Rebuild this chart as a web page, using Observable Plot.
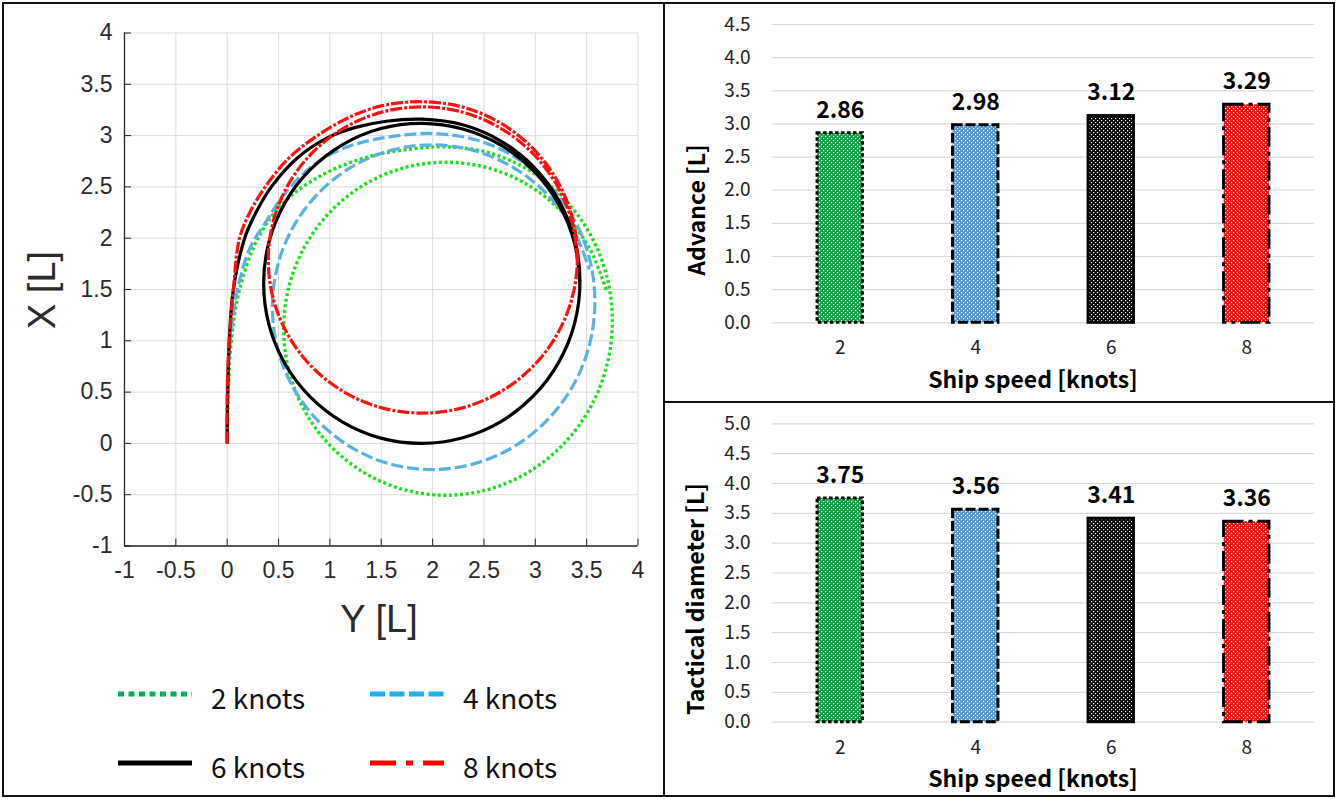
<!DOCTYPE html>
<html><head><meta charset="utf-8">
<script src="https://cdn.jsdelivr.net/npm/d3@7"></script>
<script src="https://cdn.jsdelivr.net/npm/@observablehq/plot@0.6"></script>
<style>
html,body{margin:0;padding:0;background:#fff;}
#root{position:relative;width:1337px;height:799px;overflow:hidden;background:#fff;}
.abs{position:absolute;}
.title{position:absolute;white-space:nowrap;transform:translate(-50%,-50%);}
.rot{transform:translate(-50%,-50%) rotate(-90deg);}
.bt{font-family:"Noto Sans CJK KR","Noto Sans",sans-serif;font-weight:bold;font-size:23px;color:#000;}
.lt{font-family:"Liberation Sans",Arial,sans-serif;font-size:38px;color:#2b2b2b;}
</style></head><body>
<div id="root">
  <svg width="0" height="0" style="position:absolute">
    <defs>
      <pattern id="pat2" width="4" height="4" patternUnits="userSpaceOnUse"><rect width="4" height="4" fill="#12a548"/><rect x="0" y="0" width="1.2" height="1.2" fill="#fff"/><rect x="2" y="2" width="1.2" height="1.2" fill="#fff"/></pattern>
      <pattern id="pat4" width="4" height="4" patternUnits="userSpaceOnUse"><rect width="4" height="4" fill="#5796d2"/><rect x="0" y="0" width="1.2" height="1.2" fill="#fff"/><rect x="2" y="2" width="1.2" height="1.2" fill="#fff"/></pattern>
      <pattern id="pat6" width="4" height="4" patternUnits="userSpaceOnUse"><rect width="4" height="4" fill="#000"/><rect x="0" y="0" width="1.2" height="1.2" fill="#fff"/><rect x="2" y="2" width="1.2" height="1.2" fill="#fff"/></pattern>
      <pattern id="pat8" width="4" height="4" patternUnits="userSpaceOnUse"><rect width="4" height="4" fill="#f50f0f"/><rect x="0" y="0" width="1.2" height="1.2" fill="#fff"/><rect x="2" y="2" width="1.2" height="1.2" fill="#fff"/></pattern>
    </defs>
  </svg>
  <div id="left" class="abs" style="left:0;top:0"></div>
  <div id="top" class="abs" style="left:665px;top:4px"></div>
  <div id="bot" class="abs" style="left:665px;top:403px"></div>

  <div class="abs" style="left:2px;top:2px;width:1333px;height:795px;border:2px solid #111;box-sizing:border-box"></div>
  <div class="abs" style="left:663px;top:2px;width:2px;height:795px;background:#111"></div>
  <div class="abs" style="left:663px;top:401px;width:672px;height:2px;background:#111"></div>

  <div class="title lt rot" style="left:42px;top:290px">X [L]</div>
  <div class="title lt" style="left:379px;top:619px">Y [L]</div>

  <div class="title bt rot" style="left:695px;top:210px">Advance [L]</div>
  <div class="title bt" style="left:1033px;top:378px">Ship speed [knots]</div>
  <div class="title bt rot" style="left:694px;top:599px">Tactical diameter [L]</div>
  <div class="title bt" style="left:1033px;top:777px">Ship speed [knots]</div>

  <svg id="legend" class="abs" style="left:0;top:0" width="660" height="799"></svg>
</div>
<script>
// ---- data ----
const speeds = [2, 4, 6, 8];
const speedLabels = ["2 knots", "4 knots", "6 knots", "8 knots"];
const advance = [2.86, 2.98, 3.12, 3.29];
const tactical = [3.75, 3.56, 3.41, 3.36];
const gridTicks = [-1, -0.5, 0, 0.5, 1, 1.5, 2, 2.5, 3, 3.5, 4];
const advTicks = [0, 0.5, 1, 1.5, 2, 2.5, 3, 3.5, 4, 4.5];
const tdTicks = [0, 0.5, 1, 1.5, 2, 2.5, 3, 3.5, 4, 4.5, 5];

// turning trajectories as [Y, X] pairs estimated from the figure
const traj2 = [[0,0],[0.01,0.5],[0.04,1.0],[0.12,1.5],[0.3,2.0],[0.55,2.35],[0.95,2.63],[1.4,2.8],[1.8,2.87],
  [2.15,2.89],[2.564,2.828],[2.95,2.656],[3.281,2.385],[3.536,2.035],[3.696,1.629],[3.75,1.193],[3.696,0.756],[3.536,0.35],[3.281,0.0],[2.95,-0.27],[2.564,-0.443],[2.15,-0.505],
  [1.736,-0.455],[1.35,-0.295],[1.019,-0.038],[0.764,0.30],[0.604,0.694],[0.55,1.118],[0.604,1.541],[0.764,1.935],[1.019,2.273],[1.35,2.531],[1.736,2.69],[2.15,2.74],
  [2.564,2.678],[2.95,2.506],[3.281,2.235],[3.536,1.885],[3.696,1.479]];
const traj4 = [[0,0],[0.005,0.5],[0.03,1.0],[0.1,1.5],[0.22,1.9],[0.37,2.15],[0.55,2.42],[0.85,2.72],[1.2,2.9],[1.6,2.99],
  [2.01,3.02],[2.417,2.96],[2.795,2.795],[3.12,2.534],[3.37,2.197],[3.527,1.804],[3.58,1.383],[3.527,0.961],[3.37,0.568],[3.12,0.231],[2.795,-0.03],[2.417,-0.195],[2.01,-0.255],
  [1.603,-0.205],[1.225,-0.049],[0.90,0.203],[0.65,0.531],[0.493,0.915],[0.44,1.327],[0.493,1.739],[0.65,2.123],[0.90,2.451],[1.225,2.703],[1.603,2.859],[2.01,2.91],
  [2.417,2.85],[2.795,2.684],[3.12,2.424],[3.37,2.086],[3.527,1.694]];
const traj6 = [[0,0],[0.005,0.5],[0.02,1.0],[0.06,1.5],[0.17,2.0],[0.28,2.25],[0.43,2.5],[0.68,2.78],[0.98,2.98],[1.25,3.08],[1.55,3.14],
  [1.895,3.16],[2.294,3.105],[2.665,2.947],[2.984,2.695],[3.229,2.368],[3.383,1.989],[3.435,1.58],[3.383,1.171],[3.229,0.792],[2.984,0.465],[2.665,0.213],[2.294,0.055],[1.895,0.0],
  [1.496,0.051],[1.125,0.207],[0.806,0.455],[0.561,0.778],[0.407,1.155],[0.355,1.56],[0.407,1.965],[0.561,2.342],[0.806,2.665],[1.125,2.913],[1.496,3.069],[1.895,3.12],
  [2.294,3.065],[2.665,2.907],[2.984,2.655],[3.229,2.328],[3.383,1.949],[3.435,1.54]];
const traj8 = [[0,0],[0.0,0.5],[0.02,1.0],[0.06,1.5],[0.12,2.0],[0.22,2.25],[0.37,2.5],[0.6,2.78],[0.85,2.98],[1.15,3.16],[1.5,3.29],
  [1.905,3.33],[2.295,3.277],[2.658,3.124],[2.969,2.883],[3.208,2.57],[3.359,2.205],[3.41,1.812],[3.359,1.42],[3.208,1.055],[2.969,0.742],[2.658,0.501],[2.295,0.348],[1.905,0.295],
  [1.515,0.344],[1.152,0.493],[0.841,0.73],[0.602,1.039],[0.451,1.40],[0.40,1.787],[0.451,2.175],[0.602,2.536],[0.841,2.845],[1.152,3.082],[1.515,3.231],[1.905,3.28],
  [2.295,3.227],[2.658,3.074],[2.969,2.833],[3.208,2.52],[3.359,2.155],[3.41,1.762]];

// ---- styles ----
const lineColors = ["#22dd22", "#5ab2e0", "#000000", "#ff1010"];
const lineDash = ["3,2.6", "12,4", null, "12,2,3,2"];
const lineWidth = [3.4, 3.2, 3.2, 3.2];
const legendColors = ["#00b050", "#1fb0ee", "#000000", "#ff0000"];
const legendDash = ["6,4.5", "15,4.5", null, "26,10,7,10"];
const barDash = ["3.5,2.5", "10,3", null, "20,5,4,5"];

const trajs = [traj2, traj4, traj6, traj8];
const trajData = [];
trajs.forEach((arr, k) => arr.forEach(([Y, X], i) => trajData.push({speed: speeds[k], Y, X, i})));

const fmt = d => String(d);
const left = Plot.plot({
  width: 660, height: 660,
  marginLeft: 124, marginRight: 22.5, marginTop: 32.5, marginBottom: 114.5,
  x: {domain: [-1, 4]},
  y: {domain: [-1, 4]},
  style: {fontFamily: "'Liberation Sans', Arial, sans-serif", fontSize: "23px", color: "#2b2b2b", background: "transparent", overflow: "visible"},
  marks: [
    Plot.gridX({ticks: gridTicks, stroke: "#dcdcdc", strokeOpacity: 1}),
    Plot.gridY({ticks: gridTicks, stroke: "#dcdcdc", strokeOpacity: 1}),
    Plot.axisX({ticks: gridTicks, tickSize: 0, tickPadding: 16, tickFormat: fmt, label: null}),
    Plot.axisY({ticks: gridTicks, tickSize: 0, tickPadding: 12, tickFormat: fmt, label: null}),
    Plot.axisX({ticks: gridTicks, tickSize: 7, dy: -7, tickFormat: () => "", label: null, stroke: "#262626"}),
    Plot.axisY({ticks: gridTicks, tickSize: 7, dx: 7, tickFormat: () => "", label: null, stroke: "#262626"}),
    Plot.ruleY([-1], {stroke: "#262626", strokeWidth: 1.3}),
    Plot.ruleX([-1], {stroke: "#262626", strokeWidth: 1.3}),
    ...speeds.map((s, k) => Plot.line(trajData.filter(d => d.speed === s), {
      x: "Y", y: "X", stroke: lineColors[k], strokeWidth: lineWidth[k],
      strokeDasharray: lineDash[k] || undefined, strokeLinecap: "butt", curve: "catmull-rom"
    }))
  ]
});
document.getElementById("left").appendChild(left);

// ---- legend ----
const lg = d3.select("#legend");
const legPos = [[118, 694], [370, 694], [118, 763], [370, 763]];
speeds.forEach((s, k) => {
  const [x, y] = legPos[k];
  lg.append("line").attr("x1", x).attr("x2", x + 74).attr("y1", y).attr("y2", y)
    .attr("stroke", legendColors[k]).attr("stroke-width", 5)
    .attr("stroke-dasharray", legendDash[k]);
  lg.append("text").attr("x", x + 93).attr("y", y + 3)
    .attr("dominant-baseline", "central")
    .attr("font-family", "'Noto Sans CJK KR','Noto Sans',sans-serif")
    .attr("font-size", 28).attr("fill", "#111").text(speedLabels[k]);
});

// ---- bar charts ----
const barData = speeds.map((s, i) => ({speed: s, advance: advance[i], tactical: tactical[i]}));
function barChart(key, ticks, ymax, height, mt, mb) {
  return Plot.plot({
    width: 668, height,
    marginLeft: 107, marginRight: 19, marginTop: mt, marginBottom: mb,
    x: {domain: speeds, paddingInner: 0.665, paddingOuter: 0.3325, round: false},
    y: {domain: [0, ymax]},
    style: {fontFamily: "'Noto Sans CJK KR','Noto Sans',sans-serif", fontSize: "19px", color: "#222", background: "transparent", overflow: "visible"},
    marks: [
      Plot.gridY({ticks, stroke: "#d9d9d9", strokeOpacity: 1, strokeWidth: 1.2}),
      Plot.axisY({ticks, tickSize: 0, tickPadding: 22, tickFormat: d3.format(".1f"), label: null}),
      Plot.axisX({tickSize: 0, tickPadding: 18, label: null, fontSize: 19}),
      ...speeds.map((s, i) => Plot.barY(barData.filter(d => d.speed === s), {
        x: "speed", y: key, fill: `url(#pat${s})`, stroke: "#000", strokeWidth: 3,
        strokeDasharray: barDash[i] || undefined
      })),
      Plot.text(barData, {x: "speed", y: key, text: d => d[key].toFixed(2), dy: -23,
        fontWeight: "bold", fontSize: 23, lineAnchor: "middle", fill: "#000"})
    ]
  });
}
document.getElementById("top").appendChild(barChart("advance", advTicks, 4.5, 397, 20, 78.7));
document.getElementById("bot").appendChild(barChart("tactical", tdTicks, 5, 394, 20.3, 75.3));
</script>
</body></html>
